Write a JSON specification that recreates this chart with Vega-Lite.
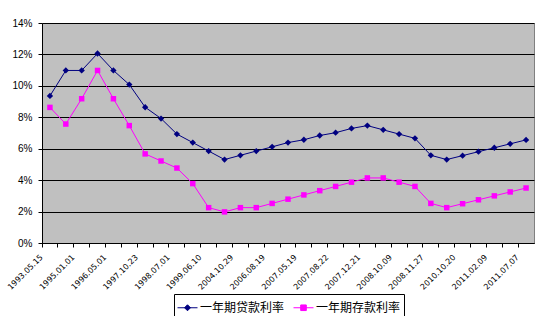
{
  "$schema": "https://vega.github.io/schema/vega-lite/v6.json",
  "width": 492,
  "height": 220,
  "autosize": {"type": "none"},
  "padding": {"left": 42, "top": 23, "right": 9, "bottom": 73},
  "background": "white",
  "config": {
    "view": {"fill": "#C0C0C0", "stroke": "#808080", "strokeWidth": 1},
    "axis": {"labelFont": "Liberation Sans", "labelColor": "black", "domainColor": "black", "tickColor": "black", "gridColor": "black", "gridOpacity": 1, "gridWidth": 1, "titleColor": "black"}
  },
  "data": {"values": [
    {"date": "1993.05.15", "series": "一年期贷款利率", "rate": 9.36},
    {"date": "1993.07.11", "series": "一年期贷款利率", "rate": 10.98},
    {"date": "1995.01.01", "series": "一年期贷款利率", "rate": 10.98},
    {"date": "1995.07.01", "series": "一年期贷款利率", "rate": 12.06},
    {"date": "1996.05.01", "series": "一年期贷款利率", "rate": 10.98},
    {"date": "1996.08.23", "series": "一年期贷款利率", "rate": 10.08},
    {"date": "1997.10.23", "series": "一年期贷款利率", "rate": 8.64},
    {"date": "1998.03.25", "series": "一年期贷款利率", "rate": 7.92},
    {"date": "1998.07.01", "series": "一年期贷款利率", "rate": 6.93},
    {"date": "1998.12.07", "series": "一年期贷款利率", "rate": 6.39},
    {"date": "1999.06.10", "series": "一年期贷款利率", "rate": 5.85},
    {"date": "2002.02.21", "series": "一年期贷款利率", "rate": 5.31},
    {"date": "2004.10.29", "series": "一年期贷款利率", "rate": 5.58},
    {"date": "2006.04.28", "series": "一年期贷款利率", "rate": 5.85},
    {"date": "2006.08.19", "series": "一年期贷款利率", "rate": 6.12},
    {"date": "2007.03.18", "series": "一年期贷款利率", "rate": 6.39},
    {"date": "2007.05.19", "series": "一年期贷款利率", "rate": 6.57},
    {"date": "2007.07.21", "series": "一年期贷款利率", "rate": 6.84},
    {"date": "2007.08.22", "series": "一年期贷款利率", "rate": 7.02},
    {"date": "2007.09.15", "series": "一年期贷款利率", "rate": 7.29},
    {"date": "2007.12.21", "series": "一年期贷款利率", "rate": 7.47},
    {"date": "2008.09.16", "series": "一年期贷款利率", "rate": 7.20},
    {"date": "2008.10.09", "series": "一年期贷款利率", "rate": 6.93},
    {"date": "2008.10.30", "series": "一年期贷款利率", "rate": 6.66},
    {"date": "2008.11.27", "series": "一年期贷款利率", "rate": 5.58},
    {"date": "2008.12.23", "series": "一年期贷款利率", "rate": 5.31},
    {"date": "2010.10.20", "series": "一年期贷款利率", "rate": 5.56},
    {"date": "2010.12.26", "series": "一年期贷款利率", "rate": 5.81},
    {"date": "2011.02.09", "series": "一年期贷款利率", "rate": 6.06},
    {"date": "2011.04.06", "series": "一年期贷款利率", "rate": 6.31},
    {"date": "2011.07.07", "series": "一年期贷款利率", "rate": 6.56},
    {"date": "1993.05.15", "series": "一年期存款利率", "rate": 8.63},
    {"date": "1993.07.11", "series": "一年期存款利率", "rate": 7.57},
    {"date": "1995.01.01", "series": "一年期存款利率", "rate": 9.18},
    {"date": "1995.07.01", "series": "一年期存款利率", "rate": 10.98},
    {"date": "1996.05.01", "series": "一年期存款利率", "rate": 9.18},
    {"date": "1996.08.23", "series": "一年期存款利率", "rate": 7.47},
    {"date": "1997.10.23", "series": "一年期存款利率", "rate": 5.67},
    {"date": "1998.03.25", "series": "一年期存款利率", "rate": 5.22},
    {"date": "1998.07.01", "series": "一年期存款利率", "rate": 4.77},
    {"date": "1998.12.07", "series": "一年期存款利率", "rate": 3.78},
    {"date": "1999.06.10", "series": "一年期存款利率", "rate": 2.25},
    {"date": "2002.02.21", "series": "一年期存款利率", "rate": 1.98},
    {"date": "2004.10.29", "series": "一年期存款利率", "rate": 2.25},
    {"date": "2006.04.28", "series": "一年期存款利率", "rate": 2.25},
    {"date": "2006.08.19", "series": "一年期存款利率", "rate": 2.52},
    {"date": "2007.03.18", "series": "一年期存款利率", "rate": 2.79},
    {"date": "2007.05.19", "series": "一年期存款利率", "rate": 3.06},
    {"date": "2007.07.21", "series": "一年期存款利率", "rate": 3.33},
    {"date": "2007.08.22", "series": "一年期存款利率", "rate": 3.60},
    {"date": "2007.09.15", "series": "一年期存款利率", "rate": 3.87},
    {"date": "2007.12.21", "series": "一年期存款利率", "rate": 4.14},
    {"date": "2008.09.16", "series": "一年期存款利率", "rate": 4.14},
    {"date": "2008.10.09", "series": "一年期存款利率", "rate": 3.87},
    {"date": "2008.10.30", "series": "一年期存款利率", "rate": 3.60},
    {"date": "2008.11.27", "series": "一年期存款利率", "rate": 2.52},
    {"date": "2008.12.23", "series": "一年期存款利率", "rate": 2.25},
    {"date": "2010.10.20", "series": "一年期存款利率", "rate": 2.50},
    {"date": "2010.12.26", "series": "一年期存款利率", "rate": 2.75},
    {"date": "2011.02.09", "series": "一年期存款利率", "rate": 3.00},
    {"date": "2011.04.06", "series": "一年期存款利率", "rate": 3.25},
    {"date": "2011.07.07", "series": "一年期存款利率", "rate": 3.50}
  ]},
  "encoding": {
    "x": {
      "field": "date", "type": "ordinal", "sort": null, "bandPosition": 0.5,
      "scale": {"type": "band", "paddingInner": 0, "paddingOuter": 0},
      "axis": {
        "title": null, "bandPosition": 0, "labelAngle": -45, "labelAlign": "right", "labelBaseline": "middle",
        "labelFont": "DejaVu Sans", "labelFontSize": 8, "labelPadding": 9, "labelOffset": -8, "tickSize": 4, "labelOverlap": false, "domainColor": "black",
        "labelExpr": "indexof(['1993.05.15','1995.01.01','1996.05.01','1997.10.23','1998.07.01','1999.06.10','2004.10.29','2006.08.19','2007.05.19','2007.08.22','2007.12.21','2008.10.09','2008.11.27','2010.10.20','2011.02.09','2011.07.07'], datum.value) >= 0 ? datum.value : ''"
      }
    },
    "y": {
      "field": "rate", "type": "quantitative",
      "scale": {"domain": [0, 14], "nice": false},
      "axis": {"title": null, "values": [0, 2, 4, 6, 8, 10, 12, 14], "labelExpr": "datum.value + '%'", "labelFontSize": 10, "tickSize": 4, "labelPadding": 6, "grid": true, "domainColor": "black"}
    },
    "color": {
      "field": "series", "type": "nominal",
      "scale": {"domain": ["一年期贷款利率", "一年期存款利率"], "range": ["#000080", "#FF00FF"]},
      "legend": {
        "title": null, "orient": "none", "legendX": 132, "legendY": 271, "direction": "horizontal",
        "strokeColor": "black", "fillColor": "white", "padding": 3, "columnPadding": 6,
        "labelFont": "Noto Sans CJK SC", "labelFontSize": 12, "labelColor": "black", "labelOffset": 2,
        "symbolSize": 400, "symbolStrokeWidth": 1, "symbolType": "M-1,0H1M0,-0.3L0.3,0L0,0.3L-0.3,0Z",
        "encode": {"symbols": {"update": {
          "shape": {"signal": "datum.value === '一年期贷款利率' ? 'M-1,0H1M0,-0.3L0.3,0L0,0.3L-0.3,0Z' : 'M-1,0H1M-0.28,-0.28H0.28V0.28H-0.28Z'"},
          "size": {"value": 400},
          "fill": {"signal": "datum.value === '一年期贷款利率' ? '#000080' : '#FF00FF'"},
          "stroke": {"signal": "datum.value === '一年期贷款利率' ? '#000080' : '#FF00FF'"},
          "fillOpacity": {"value": 1},
          "strokeOpacity": {"value": 1},
          "opacity": {"value": 1},
          "strokeWidth": {"value": 1}
        }}}
      }
    }
  },
  "layer": [
    {
      "mark": {"type": "line", "strokeWidth": 1}
    },
    {
      "transform": [{"filter": "datum.series === '一年期贷款利率'"}],
      "mark": {"type": "point", "filled": true, "opacity": 1, "shape": "diamond", "size": 40}
    },
    {
      "transform": [{"filter": "datum.series === '一年期存款利率'"}],
      "mark": {"type": "point", "filled": true, "opacity": 1, "shape": "square", "size": 30}
    }
  ]
}
